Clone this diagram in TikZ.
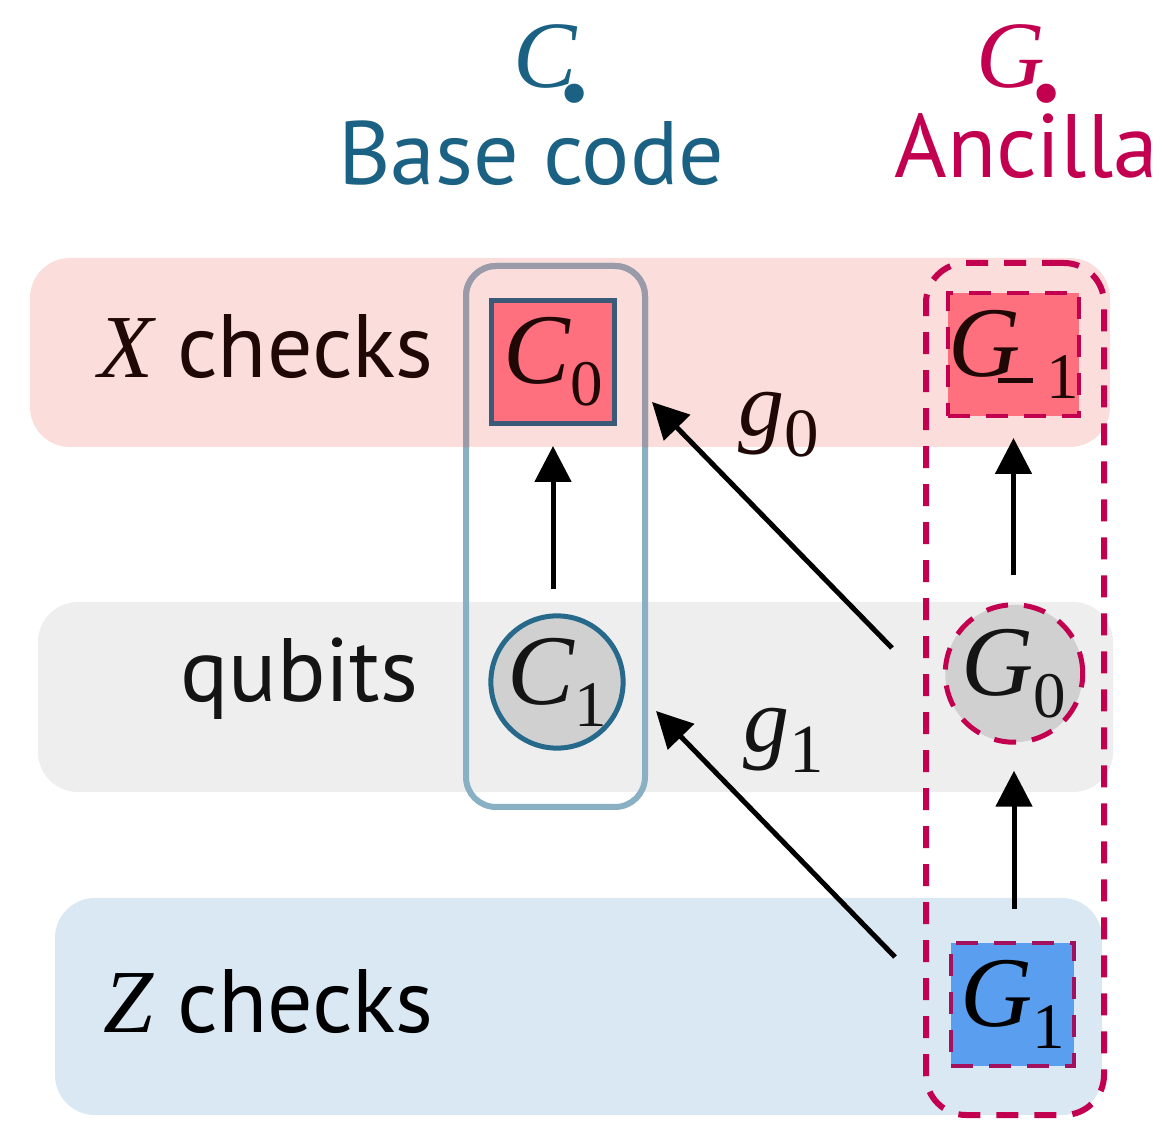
\documentclass[tikz,border=0pt]{standalone}
\usepackage{fontspec}
\setmainfont{PT Sans}
\newfontfamily\lserif{Liberation Serif}
\usetikzlibrary{arrows.meta, positioning}
\definecolor{xband}{HTML}{FBDEDB}
\definecolor{qband}{HTML}{EEEEEE}
\definecolor{zband}{HTML}{DAE8F3}
\definecolor{basecol}{HTML}{1B6183}
\definecolor{anccol}{HTML}{C2004F}
\definecolor{chkred}{HTML}{FF707E}
\definecolor{zfill}{HTML}{5A9EF0}
\definecolor{qfill}{HTML}{D0D0D0}
\definecolor{cedge}{HTML}{3A5A78}
\definecolor{qedge}{HTML}{26698A}
\definecolor{cboxcol}{HTML}{8AB0C4}
\definecolor{cboxpink}{HTML}{9A9AA8}
\definecolor{darkink}{HTML}{200806}
\definecolor{nearblack}{HTML}{141414}
\definecolor{ancdark}{HTML}{A2105E}
% letter with a lowered index
\newcommand{\idxsym}[4][0.65]{{\lserif\itshape #3}\raisebox{#2}{\lserif\scalebox{#1}{#4}}}
\tikzset{
  band/.style={rounded corners=20pt, inner sep=0pt},
  grpbox/.style={rounded corners=15pt, inner sep=0pt, outer sep=0pt, line width=3pt},
  ancdash/.style={dash pattern=on 11pt off 8pt},
  chknode/.style={rectangle, minimum size=61.5pt, inner sep=0pt, line width=2.5pt, font=\fontsize{50}{60}\selectfont},
  qubnode/.style={circle, minimum size=66pt, inner sep=0pt, line width=2.5pt, fill=qfill, text=nearblack, font=\fontsize{50}{60}\selectfont},
  rowlbl/.style={anchor=base west, inner sep=0pt, font=\fontsize{45}{54}\selectfont},
  maplbl/.style={anchor=base west, inner sep=0pt, font=\fontsize{46}{56}\selectfont},
  map/.style={->, line width=2.5pt, draw=black}
}
\begin{document}
\begin{tikzpicture}[x=0.5pt, y=-0.5pt, >={Triangle[length=18pt, width=18pt]}]
\useasboundingbox (0,0) rectangle (1163,1122);
% rows
\node[band, fill=xband, minimum width=540pt, minimum height=94.5pt] (xrow) at (570,352.5) {};
\node[band, fill=qband, minimum width=537.5pt, minimum height=95pt] (qrow) at (575.5,697) {};
\node[band, fill=zband, minimum width=523.5pt, minimum height=108.5pt] (zrow) at (578.5,1006.5) {};
% base code group
\node[grpbox, draw=cboxcol, minimum width=89.5pt, minimum height=270.5pt] (cbox) at (555.5,536.5) {};
\begin{scope}
\clip[rounded corners=20pt] (xrow.south west) rectangle (xrow.north east);
\draw[cboxpink, line width=3pt, rounded corners=15pt] (cbox.south west) rectangle (cbox.north east);
\end{scope}
% ancilla group
\node[grpbox, rounded corners=20pt, draw=anccol, ancdash, minimum width=89pt, minimum height=426pt] (gbox) at (1015,689) {};

\node[chknode, draw=cedge, fill=chkred, text=darkink] (c0) at (553,362) {\idxsym{-0.22em}{C}{0}};
\node[qubnode, draw=qedge] (c1) at (557,682) {\idxsym{-0.22em}{C}{1}};
\node[chknode, draw=anccol, ancdash, line width=2pt, fill=chkred, text=darkink] (gm1) at (1013.5,354.5) {\idxsym{-0.22em}{G}{\hspace{-0.35em}\rule[0.24em]{0.55em}{0.07em}\hspace{0.2em}1}};
\node[qubnode, draw=anccol, ancdash] (g0) at (1014,673.5) {\idxsym{-0.22em}{G}{0}};
\node[chknode, draw=ancdark, ancdash, line width=2pt, fill=zfill, text=black] (g1) at (1012.5,1004) {\idxsym{-0.22em}{G}{1}};

\draw[map, shorten <=12pt, shorten >=10pt] (c1.north -| c0.south) -- (c0.south);
\draw[map, shorten <=13.5pt, shorten >=10pt] (g0.north -| gm1.south) -- (gm1.south);
\draw[map, shorten <=15.5pt, shorten >=13pt] (g1.north -| g0.south) -- (g0.south);
\coordinate (g0tail) at (892,648);
\coordinate (g0tip) at (652,402);
\coordinate (g1tail) at (895,957);
\coordinate (g1tip) at (656,711);
\draw[map] (g0tail) -- (g0tip);
\draw[map] (g1tail) -- (g1tip);
\node[maplbl, text=darkink] (g0lbl) at (738,436) {\idxsym[0.75]{-0.22em}{g}{0}};
\node[maplbl, text=nearblack] (g1lbl) at (743,752) {\idxsym[0.75]{-0.22em}{g}{1}};

% row labels
\node[rowlbl, text=darkink] (xlbl) at (98,378) {{\lserif\itshape X} checks};
\node[rowlbl, text=nearblack] (qlbl) at (180,702) {qubits};
\node[rowlbl, text=black] (zlbl) at (103,1032) {{\lserif\itshape Z} checks};

% titles
\node[rowlbl, text=basecol, font=\fontsize{47.5}{56}\selectfont] (ctitle) at (513,88) {\idxsym[0.85]{-0.34em}{C}{\hspace{-0.2em}\textbullet}};
\node[rowlbl, text=basecol] (basecode) at (338,185) {Base code};
\node[rowlbl, text=anccol, font=\fontsize{47.5}{56}\selectfont] (gtitle) at (976,88) {\idxsym[0.85]{-0.34em}{G}{\hspace{-0.15em}\textbullet}};
\node[rowlbl, text=anccol] (ancilla) at (894,178) {Ancilla};
\end{tikzpicture}
\end{document}
